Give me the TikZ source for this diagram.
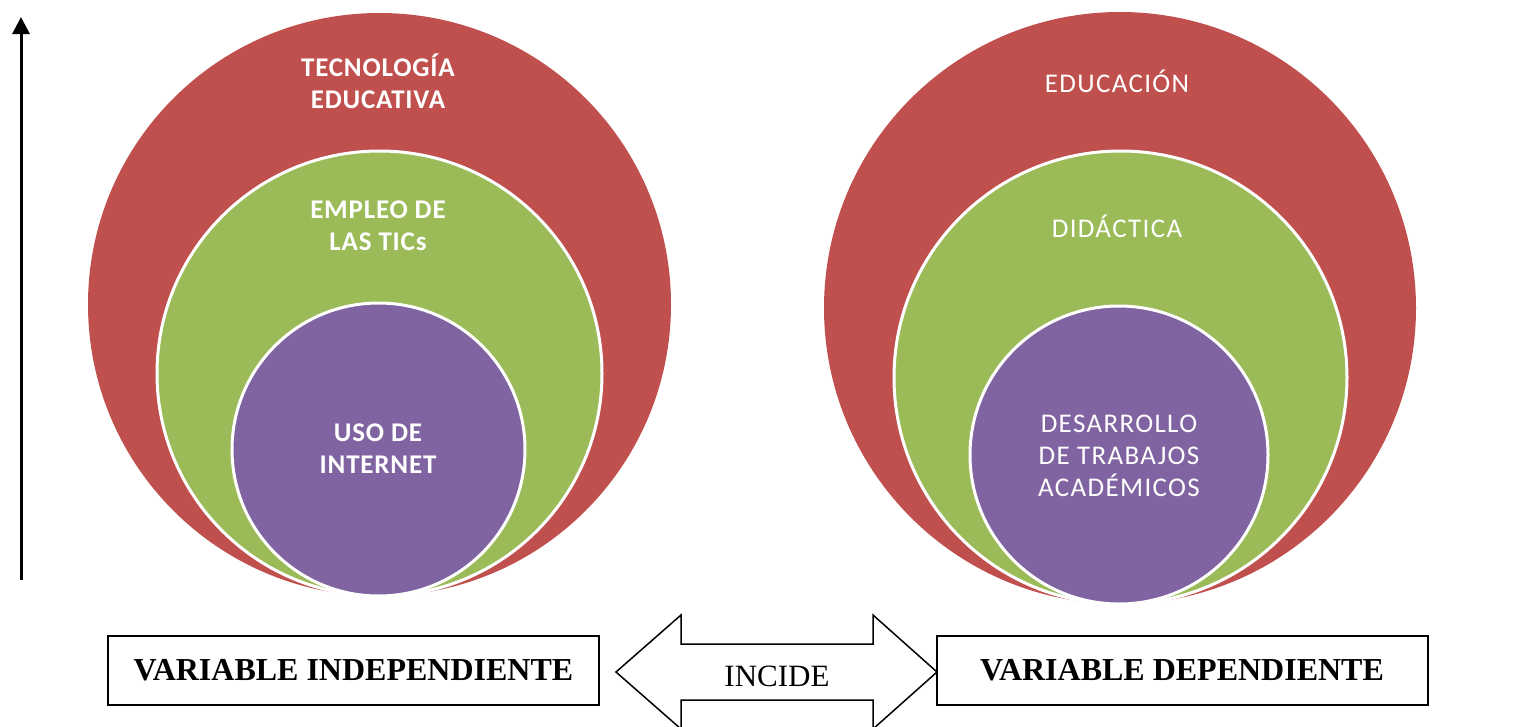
\documentclass[tikz,border=0pt]{standalone}
\usepackage{fontspec}
\setmainfont{Liberation Serif}
\newfontfamily\calibb{Carlito}[LetterSpace=3]
\newfontfamily\calibr{Carlito}[LetterSpace=5]
\usetikzlibrary{arrows.meta}
\definecolor{ored}{HTML}{C0504D}
\definecolor{ogreen}{HTML}{9BBB59}
\definecolor{opurple}{HTML}{8064A2}
\tikzset{
  ring/.style={circle, inner sep=0pt, outer sep=0pt},
  outerring/.style={ring, fill=ored},
  midring/.style={ring, fill=ogreen, draw=white, line width=3pt},
  innerring/.style={ring, fill=opurple, draw=white, line width=3pt},
  lblb/.style={text=white, font=\calibb\bfseries\fontsize{27}{32}\selectfont, align=center, inner sep=0pt},
  lblr/.style={text=white, font=\calibr\fontsize{27}{32}\selectfont, align=center, inner sep=0pt},
  varbox/.style={draw=black, line width=2pt, minimum width=491pt, minimum height=69pt, inner sep=0pt, font=\bfseries\fontsize{32}{36}\selectfont},
}
\begin{document}
\begin{tikzpicture}[x=1pt,y=-1pt]
\useasboundingbox (0,0) rectangle (1535,726);
% left set
\node[outerring, minimum size=583pt] (lr) at (379.5,304.5) {};
\node[midring, minimum size=445pt] (lg) at (379.5,373.5) {};
\node[innerring, minimum size=293pt] (lp) at (378.5,449.5) {};
\node[lblb] (lt1) at (378,81) {TECNOLOGÍA\\EDUCATIVA};
\node[lblb] (lt2) at (378,226) {EMPLEO DE\\LAS TICs};
\node[lblb] (lt3) at (378,449) {USO DE\\INTERNET};
% right set
\node[outerring, minimum size=592pt] (rr) at (1120,308) {};
\node[midring, minimum size=453pt] (rg) at (1120.5,377.5) {};
\node[innerring, minimum size=298pt] (rp) at (1119,455) {};
\node[lblr] (rt1) at (1117,81) {EDUCACIÓN};
\node[lblr] (rt2) at (1117,226) {DIDÁCTICA};
\node[lblr] (rt3) at (1119,456) {DESARROLLO\\DE TRABAJOS\\ACADÉMICOS};
% vertical axis arrow
\coordinate (axb) at (21,580);
\coordinate (axt) at (21,17);
\draw[line width=3pt, -{Triangle[width=17pt,length=17pt]}] (axb) -- (axt);
% boxes
\node[varbox] (vi) at (353.5,670.5) {VARIABLE INDEPENDIENTE};
\node[varbox] (vd) at (1182,670.5) {VARIABLE DEPENDIENTE};
% double arrow
\draw[line width=1.5pt, line join=miter, fill=white]
  (616,672) -- (681,615) -- (681,644) -- (873,644) -- (873,615) -- (937,672)
  -- (873,729) -- (873,700) -- (681,700) -- (681,729) -- cycle;
\node[font=\fontsize{31}{36}\selectfont, inner sep=0pt] (inc) at (777,676) {INCIDE};
\end{tikzpicture}
\end{document}
